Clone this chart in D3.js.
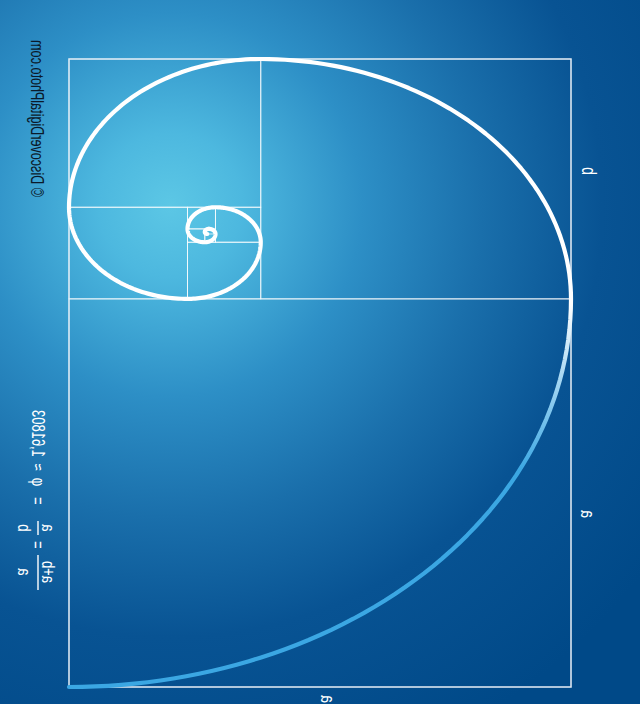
<!DOCTYPE html>
<html>
<head>
<meta charset="utf-8">
<script src="https://cdn.jsdelivr.net/npm/d3@7"></script>
<style>
  html, body { margin: 0; padding: 0; background: #004a8a; }
  svg { display: block; }
  text { font-family: "Liberation Sans", Arial, sans-serif; }
</style>
</head>
<body>
<svg id="chart" width="640" height="704"></svg>
<script>
// ---- data ----
const sideLengths = [1, 0.618034, 0.381966, 0.236068, 0.145898, 0.090170, 0.055728, 0.034442, 0.021286, 0.013156, 0.008131, 0.005025];
const cutSides = ["bottom", "right", "top", "left", "bottom", "right", "top", "left", "bottom", "right", "top", "left"];
const regionWidth = 1;
const regionHeight = 1.618034;
const sideLabels = ["a", "b", "a"];
const formulaParts = ["a+b", "a", "=", "a", "b", "=", "φ", "≈", "1,61803"];
const copyright = "© DiscoverDigitalPhoto.com";
const squaresDrawn = 9;

// ---- scales ----
const W = 640, H = 704;
const x = d3.scaleLinear().domain([0, regionWidth]).range([69, 571]);
const y = d3.scaleLinear().domain([0, regionHeight]).range([59, 687]);
const stretch = 1.4;

const svg = d3.select("#chart");
const defs = svg.append("defs");

const bg = defs.append("radialGradient").attr("id", "bg")
  .attr("gradientUnits", "userSpaceOnUse")
  .attr("cx", 170).attr("cy", 205).attr("r", 600);
[[0, "#5cc7e5"], [0.12, "#4db8df"], [0.32, "#2d8fc6"], [0.52, "#1a6fab"], [0.72, "#085393"], [1, "#004988"]]
  .forEach(([o, c]) => bg.append("stop").attr("offset", o).attr("stop-color", c));

const sg = defs.append("linearGradient").attr("id", "spiralGrad")
  .attr("gradientUnits", "userSpaceOnUse")
  .attr("x1", 0).attr("y1", y(0.63)).attr("x2", 0).attr("y2", y(1.06));
sg.append("stop").attr("offset", 0).attr("stop-color", "#ffffff");
sg.append("stop").attr("offset", 1).attr("stop-color", "#3ba7e3");

svg.append("rect").attr("width", W).attr("height", H).attr("fill", "url(#bg)");

// ---- squares ----
let R = { x0: 0, x1: regionWidth, y0: 0, y1: regionHeight };
const squares = sideLengths.map((s, i) => {
  const side = cutSides[i];
  let sq, c, t0;
  if (side === "bottom") { sq = { x0: R.x0, y0: R.y1 - s }; R.y1 -= s; c = [sq.x0, sq.y0]; t0 = 90; }
  else if (side === "right") { sq = { x0: R.x1 - s, y0: R.y0 }; R.x1 -= s; c = [sq.x0, sq.y0 + s]; t0 = 0; }
  else if (side === "top") { sq = { x0: R.x0, y0: R.y0 }; R.y0 += s; c = [sq.x0 + s, sq.y0 + s]; t0 = -90; }
  else { sq = { x0: R.x0, y0: R.y1 - s }; R.x0 += s; c = [sq.x0 + s, sq.y0]; t0 = -180; }
  return { s, x0: sq.x0, y0: sq.y0, c, t0 };
});

const grid = svg.append("g");
grid.selectAll("rect.sq").data(squares.slice(0, squaresDrawn)).join("rect")
  .attr("class", "sq")
  .attr("x", d => x(d.x0)).attr("y", d => y(d.y0))
  .attr("width", d => x(d.x0 + d.s) - x(d.x0))
  .attr("height", d => y(d.y0 + d.s) - y(d.y0))
  .attr("fill", "none").attr("stroke", "#ffffff").attr("stroke-opacity", 0.72).attr("stroke-width", 1);

grid.append("rect")
  .attr("x", x(0)).attr("y", y(0))
  .attr("width", x(regionWidth) - x(0)).attr("height", y(regionHeight) - y(0))
  .attr("fill", "none").attr("stroke", "#e6eef6").attr("stroke-opacity", 0.8).attr("stroke-width", 1.5);

// ---- spiral ----
const pts = [];
squares.forEach(d => {
  for (let k = 0; k <= 60; k++) {
    const t = (d.t0 - 90 * k / 60) * Math.PI / 180;
    pts.push([x(d.c[0] + d.s * Math.cos(t)), y(d.c[1] + d.s * Math.sin(t))]);
  }
});
svg.append("path").datum(pts)
  .attr("d", d3.line())
  .attr("fill", "none").attr("stroke", "url(#spiralGrad)")
  .attr("stroke-width", 4.2).attr("stroke-linecap", "round").attr("stroke-linejoin", "round");

// ---- texts (mirrored / transposed like the reference) ----
const tf = (px, py) => `translate(${px},${py}) scale(${stretch},1) matrix(0,-1,-1,0,0,0)`;

svg.append("text").attr("transform", tf(31, 197))
  .attr("font-size", 12.6).attr("fill", "#0b1a2a").text(copyright);

const labelPos = [[327, 699], [588, 171], [587, 514]];
sideLabels.forEach((l, i) => {
  svg.append("text").attr("transform", tf(labelPos[i][0], labelPos[i][1]))
    .attr("font-size", 14).attr("fill", "#ffffff")
    .attr("text-anchor", "middle").attr("dominant-baseline", "central").text(l);
});

const f = svg.append("g").attr("transform", tf(38, 592)).attr("fill", "#ffffff").attr("font-size", 13);
const numV = -2.6, denV = 14.0, mainV = 4.4;
// fraction 1
f.append("text").attr("x", 20).attr("y", numV).attr("text-anchor", "middle").text(formulaParts[0]);
f.append("line").attr("x1", 2).attr("x2", 37).attr("y1", 0).attr("y2", 0).attr("stroke", "#fff").attr("stroke-width", 1);
f.append("text").attr("x", 20).attr("y", denV).attr("text-anchor", "middle").text(formulaParts[1]);
f.append("text").attr("x", 47).attr("y", mainV).attr("text-anchor", "middle").text(formulaParts[2]);
// fraction 2
f.append("text").attr("x", 64).attr("y", numV).attr("text-anchor", "middle").text(formulaParts[3]);
f.append("line").attr("x1", 57).attr("x2", 71).attr("y1", 0).attr("y2", 0).attr("stroke", "#fff").attr("stroke-width", 1);
f.append("text").attr("x", 64).attr("y", denV).attr("text-anchor", "middle").text(formulaParts[4]);
f.append("text").attr("x", 91).attr("y", mainV).attr("text-anchor", "middle").text(formulaParts[5]);
f.append("text").attr("x", 110).attr("y", mainV).attr("text-anchor", "middle").text(formulaParts[6]);
f.append("text").attr("x", 125).attr("y", mainV).attr("text-anchor", "middle").text(formulaParts[7]);
f.append("text").attr("x", 135).attr("y", mainV).attr("text-anchor", "start").text(formulaParts[8]);
</script>
</body>
</html>
